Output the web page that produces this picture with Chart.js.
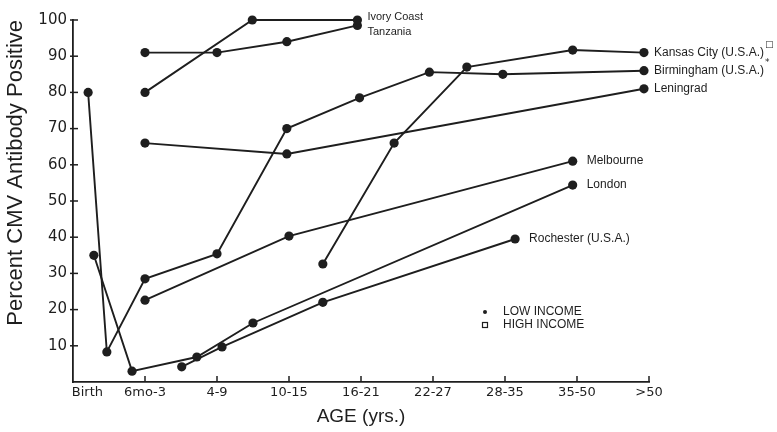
<!DOCTYPE html>
<html>
<head>
<meta charset="utf-8">
<script src="https://cdn.jsdelivr.net/npm/chart.js@4/dist/chart.umd.min.js"></script>
<style>
  html, body { margin: 0; padding: 0; background: #fff; }
  #wrap { width: 777px; height: 432px; }
</style>
</head>
<body>
<div id="wrap"><canvas id="cmv" width="777" height="432"></canvas></div>
<script>
// Age groups on the horizontal axis and where each one sits
const ageLabels    = ['Birth', '6mo-3', '4-9', '10-15', '16-21', '22-27', '28-35', '35-50', '>50'];
const agePositions = [0.2, 1, 2, 3, 4, 5, 6, 7, 8];
const pctTicks     = [10, 20, 30, 40, 50, 60, 70, 80, 90, 100];

// Percent CMV antibody positive, by population
const ivoryAge = [1, 2.49, 3.95];
const ivoryPct = [80, 100, 100];

const tanzaniaAge = [1, 2, 2.97, 3.95];
const tanzaniaPct = [91, 91, 94, 98.5];

const kansasAge = [3.47, 4.46, 5.47, 6.94, 7.93];
const kansasPct = [32.6, 66, 87, 91.7, 91];

const birminghamAge = [0.21, 0.47, 1, 2, 2.97, 3.98, 4.95, 5.97, 7.93];
const birminghamPct = [80, 8.3, 28.5, 35.4, 70, 78.5, 85.6, 85, 86];

const leningradAge = [1, 2.97, 7.93];
const leningradPct = [66, 63, 81];

const melbourneAge = [1, 3, 6.94];
const melbournePct = [22.6, 40.3, 61];

const londonAge = [0.29, 0.82, 1.72, 2.5, 6.94];
const londonPct = [35, 3, 6.9, 16.3, 54.4];

const rochesterAge = [1.51, 2.07, 3.47, 6.14];
const rochesterPct = [4.2, 9.7, 22, 39.5];

const INK = '#1e1e1e';

function pts(xs, ys) { return xs.map((x, i) => ({ x, y: ys[i] })); }

function series(label, xs, ys, tag) {
  return {
    label, tag: tag.mark || '', dx: tag.dx, dy: tag.dy, size: tag.size || 12,
    data: pts(xs, ys),
    showLine: true,
    clip: false,
    borderColor: INK, borderWidth: 1.9,
    pointRadius: 4.6, pointBackgroundColor: INK, pointBorderWidth: 0,
    tension: 0
  };
}

const datasets = [
  series('Ivory Coast', ivoryAge, ivoryPct, { dx: 10, dy: -3, size: 11 }),
  series('Tanzania', tanzaniaAge, tanzaniaPct, { dx: 10, dy: 7, size: 11 }),
  series('Kansas City (U.S.A.)', kansasAge, kansasPct, { dx: 10, dy: 0, mark: '\u25A1' }),
  series('Birmingham (U.S.A.)', birminghamAge, birminghamPct, { dx: 10, dy: 0, mark: '*' }),
  series('Leningrad', leningradAge, leningradPct, { dx: 10, dy: 0 }),
  series('Melbourne', melbourneAge, melbournePct, { dx: 14, dy: 0 }),
  series('London', londonAge, londonPct, { dx: 14, dy: 0 }),
  series('Rochester (U.S.A.)', rochesterAge, rochesterPct, { dx: 14, dy: 0 })
];

// Inward tick marks, end-of-line population names and the income key
const annotate = {
  id: 'annotate',
  afterDatasetsDraw(chart) {
    const ctx = chart.ctx, xs = chart.scales.x, ys = chart.scales.y;
    ctx.save();
    ctx.strokeStyle = INK;
    ctx.lineWidth = 1.5;
    agePositions.slice(1).forEach(v => {
      const px = xs.getPixelForValue(v);
      ctx.beginPath(); ctx.moveTo(px, ys.bottom); ctx.lineTo(px, ys.bottom - 6); ctx.stroke();
    });
    pctTicks.forEach(v => {
      const py = ys.getPixelForValue(v);
      ctx.beginPath(); ctx.moveTo(xs.left - 3, py); ctx.lineTo(xs.left + 5, py); ctx.stroke();
    });

    ctx.fillStyle = INK;
    ctx.textBaseline = 'middle';
    ctx.textAlign = 'left';
    chart.data.datasets.forEach((ds, i) => {
      const meta = chart.getDatasetMeta(i);
      const last = meta.data[meta.data.length - 1];
      const tx = last.x + ds.dx, ty = last.y + ds.dy;
      ctx.font = ds.size + 'px "Liberation Sans"';
      ctx.fillText(ds.label, tx, ty);
      if (ds.tag) {
        const w = ctx.measureText(ds.label).width;
        ctx.font = '9px "DejaVu Sans"';
        ctx.fillText(ds.tag, tx + w + 1, ty - 8);
      }
    });

    // income key
    ctx.beginPath(); ctx.arc(485, 312, 2, 0, Math.PI * 2); ctx.fill();
    ctx.lineWidth = 1.2;
    ctx.strokeRect(482.5, 322.5, 5, 5);
    ctx.font = '12px "Liberation Sans"';
    ctx.fillText('LOW INCOME', 503, 312);
    ctx.fillText('HIGH INCOME', 503, 325);
    ctx.restore();
  }
};

new Chart(document.getElementById('cmv'), {
  type: 'scatter',
  data: { datasets },
  plugins: [annotate],
  options: {
    responsive: false,
    animation: false,
    devicePixelRatio: 1,
    layout: { padding: { top: 20, right: 128, bottom: 0, left: 0 } },
    plugins: { legend: { display: false }, tooltip: { enabled: false } },
    scales: {
      x: {
        type: 'linear', min: 0, max: 8,
        afterBuildTicks: s => { s.ticks = agePositions.map(v => ({ value: v })); },
        afterFit: s => { s.height = 50; },
        ticks: {
          autoSkip: false, maxRotation: 0, padding: 3, color: INK,
          font: { family: 'DejaVu Sans', size: 13 },
          callback: v => { const k = agePositions.indexOf(v); return k >= 0 ? ageLabels[k] : ''; }
        },
        grid: { display: true, drawOnChartArea: false, drawTicks: false },
        border: { display: true, color: INK, width: 1.8 },
        title: {
          display: true, text: 'AGE (yrs.)', color: INK,
          font: { family: 'Liberation Sans', size: 19 },
          padding: { top: 0, bottom: 4 }
        }
      },
      y: {
        min: 0, max: 100,
        afterBuildTicks: s => { s.ticks = pctTicks.map(v => ({ value: v })); },
        afterFit: s => { s.width = 73; },
        ticks: { padding: 6, color: INK, font: { family: 'DejaVu Sans', size: 15 } },
        grid: { display: true, drawOnChartArea: false, drawTicks: false },
        border: { display: true, color: INK, width: 1.8 },
        title: {
          display: true, text: 'Percent CMV Antibody Positive', align: 'end', color: INK,
          font: { family: 'Liberation Sans', size: 22 },
          padding: { top: 3, bottom: 0 }
        }
      }
    }
  }
});
</script>
</body>
</html>
